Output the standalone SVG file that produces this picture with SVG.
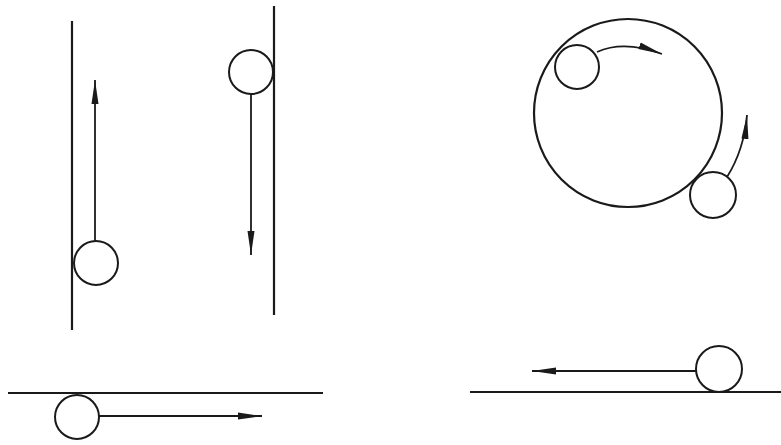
<svg xmlns="http://www.w3.org/2000/svg" width="781" height="445" viewBox="0 0 781 445">
<style>
.wall{stroke:#1a1a1a;stroke-width:2.2;fill:none}
.ball{stroke:#1a1a1a;stroke-width:2;fill:#fff}
.arr{stroke:#1a1a1a;stroke-width:1.8;fill:none;marker-end:url(#ah)}
</style>
<defs>
<marker id="ah" markerUnits="userSpaceOnUse" markerWidth="26" markerHeight="10" refX="24" refY="5" orient="auto" viewBox="0 0 26 10">
<path d="M0,1.5 L24,5 L0,8.5 Z" fill="#1a1a1a"/>
</marker>
</defs>
<rect width="781" height="445" fill="#fff"/>
<g id="connectors">
<path class="arr" d="M95,241 L95,80"/>
<path class="arr" d="M251,95 L251,255"/>
<path class="arr" d="M597,52 Q624,40 662,54"/>
<path class="arr" d="M727,177 Q744,150 747,115"/>
<path class="arr" d="M99,416 L262,416"/>
<path class="arr" d="M696,371 L532,371"/>
</g>
<g id="wall-left"><line class="wall" x1="72" y1="21" x2="72" y2="330"/></g>
<g id="wall-right"><line class="wall" x1="274" y1="6" x2="274" y2="315"/></g>
<g id="ground-left"><line class="wall" x1="8" y1="393" x2="323" y2="393"/></g>
<g id="ground-right"><line class="wall" x1="470" y1="392" x2="781" y2="392"/></g>
<g id="loop"><circle class="wall" cx="628" cy="113" r="94"/></g>
<g id="ball-1"><circle class="ball" cx="96" cy="263" r="22"/></g>
<g id="ball-2"><circle class="ball" cx="251" cy="72" r="22"/></g>
<g id="ball-3"><circle class="ball" cx="577" cy="67" r="22"/></g>
<g id="ball-4"><circle class="ball" cx="713" cy="195" r="23"/></g>
<g id="ball-5"><circle class="ball" cx="77" cy="417" r="22"/></g>
<g id="ball-6"><circle class="ball" cx="719" cy="369" r="23"/></g>
</svg>
